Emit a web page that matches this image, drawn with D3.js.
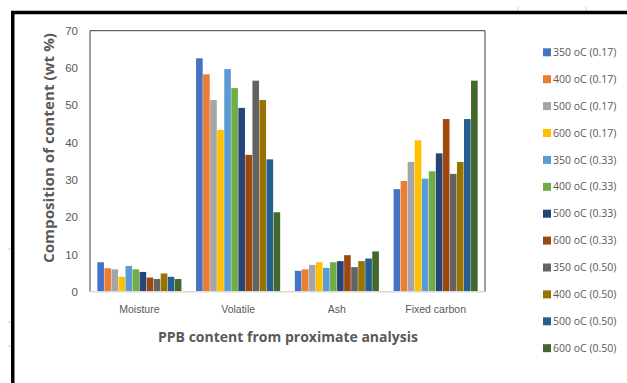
<!DOCTYPE html>
<html>
<head>
<meta charset="utf-8">
<script src="https://cdn.jsdelivr.net/npm/d3@7"></script>
<style>
  body { margin: 0; background: #fff; }
  svg { display: block; font-family: "Open Sans", "Noto Sans", sans-serif; }
</style>
</head>
<body>
<svg id="chart" width="627" height="383"></svg>
<script>
"use strict";

// categories on the x axis
const categories = ["Moisture", "Volatile", "Ash", "Fixed carbon"];

// series: temperature (ratio)
const seriesNames = [
    "350 oC (0.17)", "400 oC (0.17)", "500 oC (0.17)", "600 oC (0.17)",
    "350 oC (0.33)", "400 oC (0.33)", "500 oC (0.33)", "600 oC (0.33)",
    "350 oC (0.50)", "400 oC (0.50)", "500 oC (0.50)", "600 oC (0.50)"
];

// values per category, one per series (wt %)
const moisture    = [7.9, 6.3, 6.0, 4.0, 6.9, 6.0, 5.3, 3.8, 3.4, 4.9, 4.0, 3.4];
const volatile    = [62.6, 58.3, 51.4, 43.4, 59.7, 54.6, 49.3, 36.7, 56.6, 51.4, 35.5, 21.3];
const ash         = [5.6, 6.0, 7.2, 7.9, 6.4, 7.9, 8.2, 9.8, 6.6, 8.2, 8.9, 10.8];
const fixedCarbon = [27.5, 29.7, 34.8, 40.6, 30.3, 32.3, 37.1, 46.3, 31.6, 34.8, 46.3, 56.6];

const yTicks = [0, 10, 20, 30, 40, 50, 60, 70];

const palette = ["#4472C4", "#ED7D31", "#A5A5A5", "#FFC000", "#5B9BD5", "#70AD47",
                 "#264478", "#9E480E", "#636363", "#997300", "#255E91", "#43682B"];

const table = [moisture, volatile, ash, fixedCarbon].map((vals, i) => ({
    category: categories[i],
    values: vals.map((v, j) => ({ series: seriesNames[j], value: v }))
}));

const svg = d3.select("#chart");

// outer frame of the pasted figure
svg.append("line").attr("x1", 12.75).attr("x2", 12.75).attr("y1", 11).attr("y2", 383)
    .attr("stroke", "#000").attr("stroke-width", 3.5);
svg.append("line").attr("x1", 11).attr("x2", 627).attr("y1", 12.5).attr("y2", 12.5)
    .attr("stroke", "#000").attr("stroke-width", 3.5);
// little grey marks left of / above the frame
[249, 322, 346].forEach(y => svg.append("line").attr("x1", 8).attr("x2", 11)
    .attr("y1", y).attr("y2", y).attr("stroke", "#ccc"));
[518, 586].forEach(x => svg.append("line").attr("x1", x).attr("x2", x)
    .attr("y1", 7).attr("y2", 10).attr("stroke", "#ccc"));

// plot area
const plot = { left: 90, top: 30.7, right: 485, bottom: 291.7 };

const x0 = d3.scaleBand()
    .domain(categories)
    .range([plot.left, plot.right])
    .paddingInner(0.14)
    .paddingOuter(0.07);

const x1 = d3.scaleBand()
    .domain(seriesNames)
    .range([0, x0.bandwidth()])
    .padding(0.06);

const y = d3.scaleLinear()
    .domain([0, 70])
    .range([plot.bottom, plot.top]);

const color = d3.scaleOrdinal().domain(seriesNames).range(palette);

// frame around the plot area
svg.append("path")
    .attr("d", `M${plot.left},${plot.bottom}V${plot.top}H${plot.right}V${plot.bottom}`)
    .attr("fill", "none")
    .attr("stroke", "#3a3a3a")
    .attr("stroke-width", 1);

// bars
svg.append("g")
    .selectAll("g")
    .data(table)
    .join("g")
    .attr("transform", d => `translate(${x0(d.category)},0)`)
    .selectAll("rect")
    .data(d => d.values)
    .join("rect")
    .attr("x", d => x1(d.series))
    .attr("y", d => y(d.value))
    .attr("width", x1.bandwidth())
    .attr("height", d => y(0) - y(d.value))
    .attr("fill", d => color(d.series));

// x axis baseline
svg.append("line")
    .attr("x1", plot.left).attr("x2", plot.right)
    .attr("y1", plot.bottom).attr("y2", plot.bottom)
    .attr("stroke", "#d9d9d9").attr("stroke-width", 1.5);

// y axis (labels only)
const yAxis = svg.append("g")
    .attr("transform", `translate(${plot.left},0)`)
    .call(d3.axisLeft(y).tickValues(yTicks).tickSize(0).tickPadding(12));
yAxis.select(".domain").remove();
yAxis.selectAll("text")
    .attr("fill", "#595959")
    .style("font-size", "11.5px");

// x axis (category labels)
const xAxis = svg.append("g")
    .attr("transform", `translate(0,${plot.bottom})`)
    .call(d3.axisBottom(x0).tickSize(0).tickPadding(14));
xAxis.select(".domain").remove();
xAxis.selectAll("text")
    .attr("fill", "#595959")
    .style("font-size", "10.5px");

// axis titles
svg.append("text")
    .attr("transform", "translate(54,148) rotate(-90)")
    .attr("text-anchor", "middle")
    .attr("fill", "#595959")
    .style("font-size", "14px")
    .style("font-weight", "bold")
    .attr("textLength", 230)
    .attr("lengthAdjust", "spacingAndGlyphs")
    .text("Composition of content (wt %)");

svg.append("text")
    .attr("x", 288)
    .attr("y", 342)
    .attr("text-anchor", "middle")
    .attr("fill", "#595959")
    .style("font-size", "14px")
    .style("font-weight", "bold")
    .attr("textLength", 260)
    .attr("lengthAdjust", "spacingAndGlyphs")
    .text("PPB content from proximate analysis");

// legend
const legend = svg.append("g")
    .selectAll("g")
    .data(seriesNames)
    .join("g")
    .attr("transform", (d, i) => `translate(543,${52.3 + i * 26.9})`);

legend.append("rect")
    .attr("x", 0).attr("y", -4)
    .attr("width", 8).attr("height", 8)
    .attr("fill", d => color(d));

legend.append("text")
    .attr("x", 10)
    .attr("y", 0)
    .attr("dy", "0.35em")
    .attr("fill", "#595959")
    .style("font-size", "10.5px")
    .text(d => d);
</script>
</body>
</html>
